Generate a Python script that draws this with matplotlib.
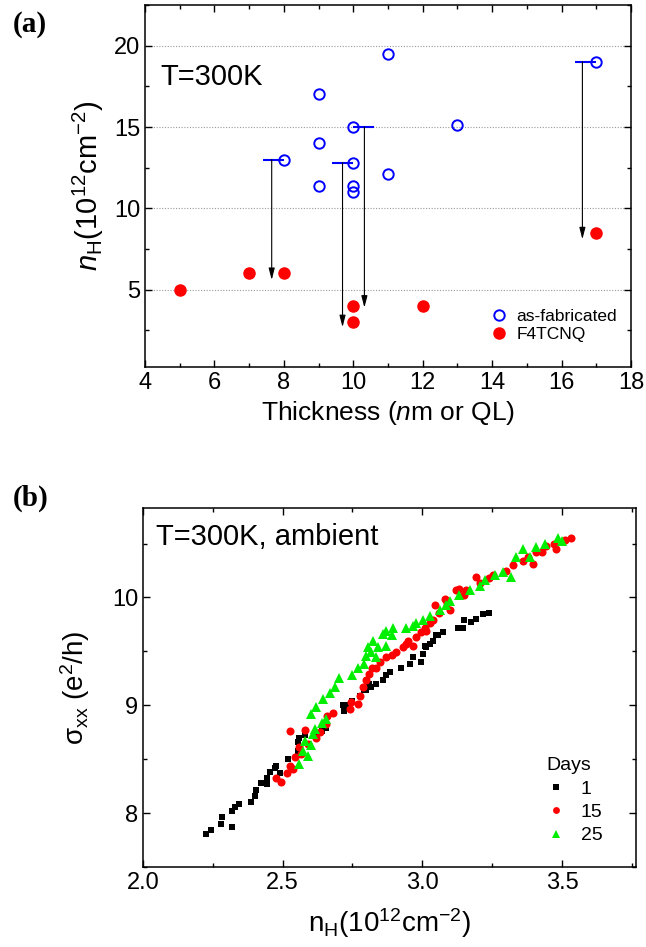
import matplotlib
matplotlib.use("Agg")
import matplotlib.pyplot as plt
from matplotlib.ticker import MultipleLocator

plt.rcParams['font.family'] = ['Liberation Sans', 'DejaVu Sans']
plt.rcParams['mathtext.fontset'] = 'custom'
plt.rcParams['mathtext.rm'] = 'Liberation Sans'
plt.rcParams['mathtext.it'] = 'Liberation Sans:italic'
plt.rcParams['mathtext.bf'] = 'Liberation Sans:bold'
plt.rcParams['mathtext.sf'] = 'Liberation Sans'

# ---------------- Panel (a) data ----------------
asfab_thk = [8, 9, 9, 9, 10, 10, 10, 10, 11, 11, 13, 17]
asfab_n = [13.0, 17.0, 14.0, 11.4, 15.0, 12.8, 11.4, 11.0, 19.5, 12.1, 15.1, 19.0]
f4_thk = [5, 7, 8, 10, 10, 12, 17]
f4_n = [5.0, 6.0, 6.0, 4.0, 3.0, 4.0, 8.5]
# blue marker bars and arrows
bar_x0 = [7.4, 9.4, 10.0, 16.4]
bar_x1 = [8.0, 10.0, 10.6, 17.0]
arrow_x = [7.65, 9.69, 10.32, 16.6]
arrow_y0 = [13.0, 12.8, 15.0, 19.0]
arrow_y1 = [5.6, 2.7, 3.9, 8.1]

# ---------------- Panel (b) data ----------------
n1 = [2.224, 2.245, 2.28, 2.284, 2.32, 2.32, 2.33, 2.345, 2.385, 2.40,
      2.406, 2.424, 2.444, 2.444, 2.454, 2.471, 2.477, 2.489, 2.555, 2.555,
      2.56, 2.58, 2.64, 2.656, 2.716, 2.72, 2.73, 2.75, 2.776, 2.79,
      2.80, 2.81, 2.817, 2.835, 2.86, 2.87, 2.883, 2.925, 2.955, 2.967,
      2.996, 3.002, 3.008, 3.014, 3.026, 3.04, 3.05, 3.056, 3.074, 3.127,
      3.146, 3.151, 3.175, 3.193, 3.217, 3.24, 2.52, 2.62]
s1 = [7.81, 7.84, 7.90, 7.96, 7.87, 8.02, 8.06, 8.08, 8.10, 8.16,
      8.21, 8.28, 8.27, 8.33, 8.38, 8.42, 8.44, 8.37, 8.58, 8.66,
      8.70, 8.72, 8.76, 8.79, 9.00, 8.95, 9.00, 9.04, 9.09, 9.14,
      9.14, 9.20, 9.17, 9.20, 9.23, 9.28, 9.31, 9.35, 9.38, 9.45,
      9.40, 9.48, 9.55, 9.54, 9.57, 9.60, 9.65, 9.65, 9.68, 9.72,
      9.72, 9.79, 9.77, 9.80, 9.85, 9.86, 8.50, 8.74]
n15 = [2.475, 2.495, 2.515, 2.525, 2.525, 2.537, 2.543, 2.56, 2.567, 2.58,
       2.59, 2.62, 2.632, 2.656, 2.66, 2.68, 2.74, 2.745, 2.77, 2.776,
       2.787, 2.80, 2.81, 2.82, 2.835, 2.847, 2.87, 2.907, 2.93, 2.943,
       2.967, 2.978, 2.996, 3.008, 3.014, 3.026, 3.04, 3.044, 3.08, 3.098,
       3.12, 3.133, 3.157, 3.193, 3.205, 3.253, 3.30, 3.325, 3.36, 3.396,
       3.408, 3.444, 3.48, 3.51, 3.533, 3.06, 3.09, 3.15, 3.24, 3.38,
       3.43, 3.47, 2.89, 2.95]
s15 = [8.33, 8.29, 8.37, 8.44, 8.76, 8.41, 8.52, 8.61, 8.55, 8.77,
       8.64, 8.70, 8.75, 8.83, 8.90, 8.93, 8.97, 9.03, 9.01, 9.09,
       9.17, 9.23, 9.29, 9.35, 9.35, 9.40, 9.45, 9.49, 9.54, 9.57,
       9.55, 9.63, 9.68, 9.72, 9.69, 9.76, 9.79, 9.93, 9.99, 9.88,
       10.07, 10.08, 10.07, 10.19, 10.13, 10.21, 10.25, 10.30, 10.34, 10.31,
       10.42, 10.48, 10.45, 10.53, 10.55, 9.86, 9.95, 10.02, 10.18, 10.38,
       10.42, 10.50, 9.47, 9.60]
n25 = [2.56, 2.573, 2.58, 2.59, 2.60, 2.60, 2.61, 2.615, 2.62, 2.64,
       2.645, 2.656, 2.668, 2.686, 2.70, 2.75, 2.77, 2.79, 2.80, 2.805,
       2.817, 2.823, 2.835, 2.84, 2.86, 2.87, 2.87, 2.89, 2.895, 2.943,
       2.967, 2.978, 3.002, 3.026, 3.062, 3.086, 3.098, 3.133, 3.169, 3.205,
       3.223, 3.259, 3.29, 3.318, 3.336, 3.36, 3.384, 3.408, 3.44, 3.486,
       3.50]
s25 = [8.46, 8.58, 8.67, 8.53, 8.63, 8.92, 8.73, 8.78, 8.98, 8.84,
       9.06, 8.87, 9.11, 9.17, 9.25, 9.28, 9.35, 9.38, 9.46, 9.54,
       9.49, 9.60, 9.45, 9.54, 9.66, 9.55, 9.69, 9.65, 9.72, 9.72,
       9.74, 9.76, 9.79, 9.83, 9.88, 9.93, 9.97, 10.02, 10.07, 10.11,
       10.16, 10.21, 10.24, 10.19, 10.38, 10.45, 10.38, 10.47, 10.50, 10.55,
       10.52]

W, H = 646, 947
fig = plt.figure(figsize=(W / 100, H / 100), dpi=100)


def px_axes(l, r, t, b):
    return fig.add_axes([l / W, 1 - b / H, (r - l) / W, (b - t) / H])


def style(ax):
    ax.tick_params(which='both', direction='in', top=True, right=True,
                   labelsize=17, width=1.0)
    ax.tick_params(which='major', length=5)
    ax.tick_params(which='minor', length=3)
    for s in ax.spines.values():
        s.set_linewidth(1.1)


# ---------------- Panel (a) ----------------
axa = px_axes(145, 631, 5, 367)
axa.set_xlim(4, 18)
axa.set_ylim(0.25, 22.5)
axa.xaxis.set_major_locator(MultipleLocator(2))
axa.xaxis.set_minor_locator(MultipleLocator(1))
axa.yaxis.set_major_locator(MultipleLocator(5))
axa.yaxis.set_minor_locator(MultipleLocator(2.5))
axa.yaxis.grid(True, which='major', linestyle=(0, (1, 1.5)), color='#999999', lw=0.8)
axa.set_axisbelow(True)
style(axa)

axa.hlines(arrow_y0, bar_x0, bar_x1, colors='#0000ff', lw=1.5, zorder=3)
for x, y0, y1 in zip(arrow_x, arrow_y0, arrow_y1):
    axa.annotate('', xy=(x, y1), xytext=(x, y0),
                 arrowprops=dict(arrowstyle='-|>,head_length=0.7,head_width=0.18',
                                 color='black', lw=0.8, shrinkA=0, shrinkB=0,
                                 mutation_scale=10), zorder=3)
axa.plot(asfab_thk, asfab_n, 'o', mfc='none', mec='#0000ff', ms=7.5, mew=1.4,
         label='as-fabricated', zorder=4)
axa.plot(f4_thk, f4_n, 'o', mfc='#ff0000', mec='#ff0000', ms=8,
         label='F4TCNQ', zorder=4)
axa.legend(loc='lower right', frameon=False, fontsize=12.5, handlelength=1.0,
           handletextpad=0.5, labelspacing=0.15, borderaxespad=0.4,
           bbox_to_anchor=(1.0, 0.03))
axa.text(0.031, 0.779, 'T=300K', transform=axa.transAxes, fontsize=21,
         ha='left', va='baseline')
axa.set_xlabel(r'Thickness ($n$m or QL)', fontsize=19, labelpad=4)
axa.set_ylabel(r'$n_{\mathrm{H}}$(10$^{12}$cm$^{-2}$)', fontsize=21, labelpad=6)

# ---------------- Panel (b) ----------------
axb = px_axes(143, 636, 508, 867)
axb.set_xlim(2.0, 3.765)
axb.set_ylim(7.5, 10.83)
axb.xaxis.set_major_locator(MultipleLocator(0.5))
axb.xaxis.set_minor_locator(MultipleLocator(0.25))
axb.yaxis.set_major_locator(MultipleLocator(1))
axb.yaxis.set_minor_locator(MultipleLocator(0.5))
style(axb)

axb.plot(n1, s1, 's', color='black', ms=5, mew=0, label='1', zorder=3)
axb.plot(n15, s15, 'o', color='#ff0000', ms=5.8, mew=0, label='15', zorder=4)
axb.plot(n25, s25, '^', color='#00ee00', ms=6.8, mew=0, label='25', zorder=5)
leg = axb.legend(loc='lower right', frameon=False, fontsize=14, title='Days',
                 title_fontsize=14, handlelength=1.0, handletextpad=0.8,
                 labelspacing=0.3, borderaxespad=0.3, markerscale=0.85,
                 bbox_to_anchor=(0.96, 0.025), alignment='left')
axb.text(0.026, 0.897, 'T=300K, ambient', transform=axb.transAxes, fontsize=21,
         ha='left', va='baseline')
axb.set_xlabel(r'n$_{\mathrm{H}}$(10$^{12}$cm$^{-2}$)', fontsize=20, labelpad=9)
axb.set_ylabel(r'$\mathrm{σ}_{\mathrm{xx}}$ (e$^{2}$/h)', fontsize=20, labelpad=14)

fig.text(13 / W, 1 - 32 / H, '(a)', fontsize=21, fontweight='bold',
         family='Liberation Serif', ha='left', va='baseline')
fig.text(13 / W, 1 - 506 / H, '(b)', fontsize=21, fontweight='bold',
         family='Liberation Serif', ha='left', va='baseline')

fig.savefig('out.png', dpi=100)
